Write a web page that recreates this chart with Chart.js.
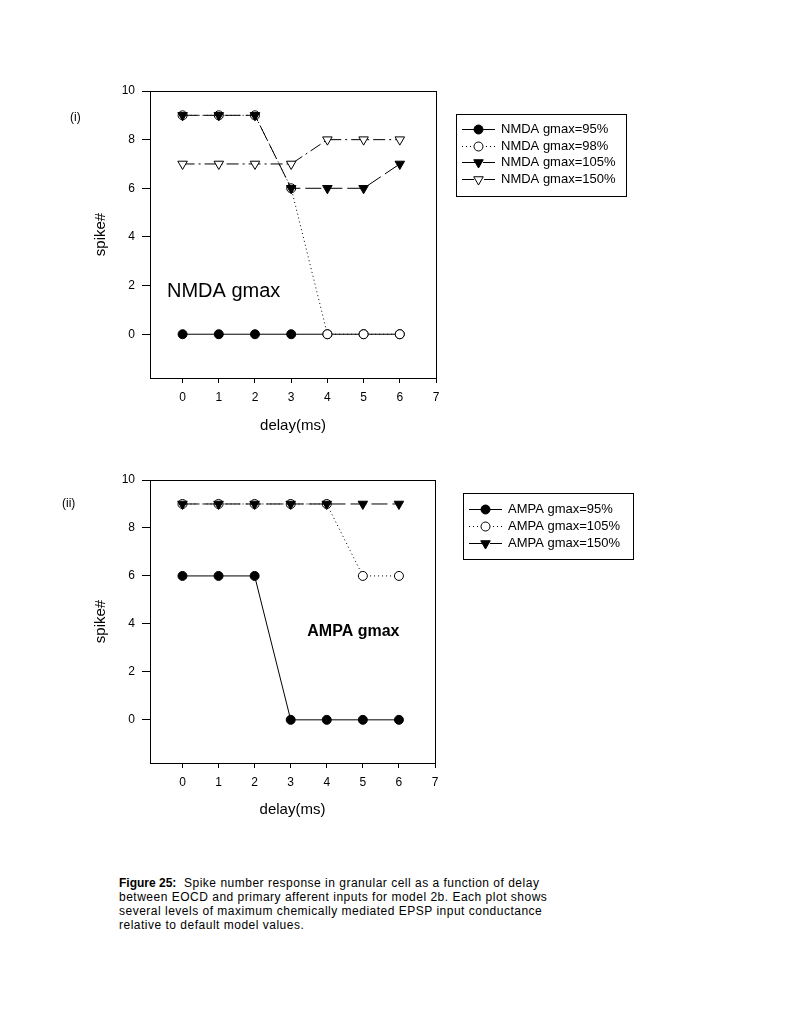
<!DOCTYPE html>
<html>
<head>
<meta charset="utf-8">
<script src="https://cdn.jsdelivr.net/npm/chart.js@4.4.0/dist/chart.umd.min.js"></script>
<style>
body { margin: 0; background: #fff; font-family: Arial, "Liberation Sans", sans-serif; color: #000; }
#page { position: relative; width: 794px; height: 1028px; overflow: hidden; }
canvas { position: absolute; left: 0; }
.lab { position: absolute; font-size: 12px; }
#caption { position: absolute; left: 119px; top: 876px; width: 500px; font-size: 12px; line-height: 14px; letter-spacing: 0.5px; }
</style>
</head>
<body>
<div id="page">
  <canvas id="chartNmda" width="794" height="450" style="top:0px"></canvas>
  <canvas id="chartAmpa" width="794" height="450" style="top:390px"></canvas>
  <div class="lab" style="left:70px;top:110px">(i)</div>
  <div class="lab" style="left:62px;top:496px">(ii)</div>
  <div id="caption"><b style="letter-spacing:0">Figure 25:</b>&nbsp; Spike number response in granular cell as a function of delay<br>between EOCD and primary afferent inputs for model 2b. Each plot shows<br>several levels of maximum chemically mediated EPSP input conductance<br>relative to default model values.</div>
</div>
<script>
// data
const delays = [0, 1, 2, 3, 4, 5, 6];
const xTicks = [0, 1, 2, 3, 4, 5, 6, 7];
const yTicks = [0, 2, 4, 6, 8, 10];

const nmdaLabels = ["NMDA gmax=95%", "NMDA gmax=98%", "NMDA gmax=105%", "NMDA gmax=150%"];
const nmda95 = [0, 0, 0, 0, 0, 0, 0];
const nmda98 = [9, 9, 9, 6, 0, 0, 0];
const nmda105 = [9, 9, 9, 6, 6, 6, 7];
const nmda150 = [7, 7, 7, 7, 8, 8, 8];

const ampaLabels = ["AMPA gmax=95%", "AMPA gmax=105%", "AMPA gmax=150%"];
const ampa95 = [6, 6, 6, 0, 0, 0, 0];
const ampa105 = [9, 9, 9, 9, 9, 6, 6];
const ampa150 = [9, 9, 9, 9, 9, 9, 9];

const FONT = 'Arial, "Liberation Sans", sans-serif';

// line + marker styles used in the figure
const styles = {
  solidDot:   { borderDash: [], pointStyle: "circle", pointRadius: 4.5, pointRotation: 0, pointBackgroundColor: "#000" },
  dotOpen:    { borderDash: [1, 3], pointStyle: "circle", pointRadius: 4.5, pointRotation: 0, pointBackgroundColor: "#fff" },
  dashTri:    { borderDash: [16, 5], pointStyle: "triangle", pointRadius: 5.5, pointRotation: 180, pointBackgroundColor: "#000" },
  dashDotTri: { borderDash: [12, 4, 2, 4], pointStyle: "triangle", pointRadius: 5.5, pointRotation: 180, pointBackgroundColor: "#fff" }
};

function makeSet(label, values, style, order)
{
  return Object.assign({
    label: label,
    data: delays.map((d, i) => ({ x: d, y: values[i] })),
    borderColor: "#000",
    borderWidth: 1,
    pointBorderColor: "#000",
    pointBorderWidth: 1,
    fill: false,
    tension: 0,
    order: order
  }, style);
}

//draw one legend/marker symbol by hand
function drawMarker(ctx, ds, x, y)
{
  const r = ds.pointRadius;
  ctx.beginPath();
  if (ds.pointStyle === "circle") {
    ctx.arc(x, y, r, 0, Math.PI * 2);
  } else {
    let rad = ds.pointRotation * Math.PI / 180;
    for (let k = 0; k < 3; k++) {
      const px = x + Math.sin(rad) * r, py = y - Math.cos(rad) * r;
      if (k === 0) ctx.moveTo(px, py); else ctx.lineTo(px, py);
      rad += Math.PI * 2 / 3;
    }
    ctx.closePath();
  }
  ctx.fillStyle = ds.pointBackgroundColor;
  ctx.fill();
  ctx.lineWidth = 1;
  ctx.strokeStyle = "#000";
  ctx.stroke();
}

// frame round the plot area, boxed legend, and in-plot label
const figurePlugin = {
  id: "figure",
  afterDraw(chart, args, opts)
  {
    const ctx = chart.ctx;
    const a = chart.chartArea;
    ctx.save();
    ctx.strokeStyle = "#000";
    ctx.lineWidth = 1;
    ctx.setLineDash([]);
    ctx.strokeRect(Math.round(a.left) + 0.5, Math.round(a.top) + 0.5, Math.round(a.right - a.left), Math.round(a.bottom - a.top));

    // legend box
    const L = opts.legend;
    ctx.strokeRect(L.x + 0.5, L.y + 0.5, L.w, L.h);
    chart.data.datasets.forEach((ds, i) => {
      const cy = Math.round(L.y + L.first + i * L.gap) + 0.5;
      ctx.setLineDash(ds.borderDash);
      ctx.beginPath();
      ctx.moveTo(L.x + 6, cy);
      ctx.lineTo(L.x + 39, cy);
      ctx.stroke();
      ctx.setLineDash([]);
      drawMarker(ctx, ds, L.x + 22.5, cy);
      ctx.fillStyle = "#000";
      ctx.font = "13px " + FONT;
      ctx.textBaseline = "middle";
      ctx.textAlign = "left";
      ctx.fillText(ds.label, L.x + 45, cy);
    });

    // note inside the plot
    const N = opts.note;
    ctx.font = N.font;
    ctx.fillStyle = "#000";
    ctx.textBaseline = "alphabetic";
    ctx.fillText(N.text, chart.scales.x.getPixelForValue(N.x), chart.scales.y.getPixelForValue(N.y));
    ctx.restore();
  }
};

function makeChart(id, datasets, lay)
{
  return new Chart(document.getElementById(id), {
    type: "line",
    data: { datasets: datasets },
    plugins: [figurePlugin],
    options: {
      responsive: false,
      animation: false,
      devicePixelRatio: 1,
      layout: { padding: { left: 92, right: lay.right, top: lay.top, bottom: 0 } },
      plugins: {
        legend: { display: false },
        tooltip: { enabled: false },
        figure: { legend: lay.legend, note: lay.note }
      },
      scales: {
        x: {
          type: "linear",
          min: -0.9,
          max: 7,
          afterBuildTicks: s => { s.ticks = xTicks.map(v => ({ value: v })); },
          afterFit: s => { s.height = lay.xHeight; },
          border: { display: false },
          grid: { drawOnChartArea: false, drawTicks: true, tickLength: 5, color: "#000", lineWidth: 1 },
          ticks: { color: "#000", padding: 7, maxRotation: 0, autoSkip: false, font: { size: 12, family: FONT } },
          title: { display: true, text: "delay(ms)", color: "#000", font: { size: 15, family: FONT }, padding: { top: 0, bottom: lay.xTitlePad } }
        },
        y: {
          min: lay.yMin,
          max: 10,
          afterBuildTicks: s => { s.ticks = yTicks.map(v => ({ value: v })); },
          afterFit: s => { s.width = 58; },
          border: { display: false },
          grid: { drawOnChartArea: false, drawTicks: true, tickLength: 8, color: "#000", lineWidth: 1 },
          ticks: { color: "#000", padding: 7, font: { size: 12, family: FONT } },
          title: { display: true, text: "spike#", color: "#000", font: { size: 15, family: FONT }, padding: 0 }
        }
      }
    }
  });
}

makeChart("chartNmda", [
  makeSet(nmdaLabels[0], nmda95, styles.solidDot, 3),
  makeSet(nmdaLabels[1], nmda98, styles.dotOpen, 2),
  makeSet(nmdaLabels[2], nmda105, styles.dashTri, 1),
  makeSet(nmdaLabels[3], nmda150, styles.dashDotTri, 0)
], {
  top: 91, right: 358, xHeight: 72, xTitlePad: 15, yMin: -1.8,
  legend: { x: 456, y: 114, w: 170, h: 82, first: 15, gap: 16.7 },
  note: { text: "NMDA gmax", font: "20px " + FONT, x: -0.43, y: 1.54 }
});

makeChart("chartAmpa", [
  makeSet(ampaLabels[0], ampa95, styles.solidDot, 2),
  makeSet(ampaLabels[1], ampa105, styles.dotOpen, 1),
  makeSet(ampaLabels[2], ampa150, styles.dashTri, 0)
], {
  top: 90, right: 359, xHeight: 77, xTitlePad: 21, yMin: -1.8,
  legend: { x: 463, y: 103, w: 170, h: 66, first: 16, gap: 17 },
  note: { text: "AMPA gmax", font: "bold 16px " + FONT, x: 3.46, y: 3.5 }
});
</script>
</body>
</html>
